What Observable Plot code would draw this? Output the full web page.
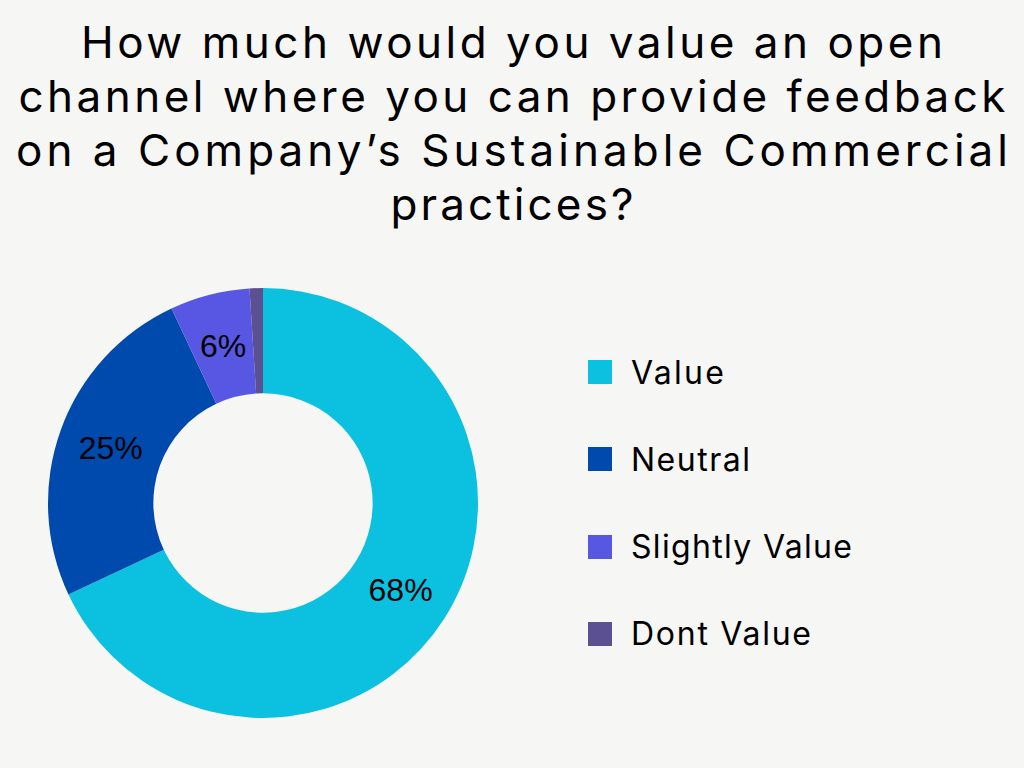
<!DOCTYPE html>
<html><head><meta charset="utf-8">
<script src="https://cdn.jsdelivr.net/npm/d3@7"></script>
<script src="https://cdn.jsdelivr.net/npm/@observablehq/plot@0.6"></script>
<style>
html,body{margin:0;padding:0;background:#F6F6F4;width:1024px;height:768px;overflow:hidden;}
#title{position:absolute;left:0;top:0;width:1024px;text-align:center;font-family:Inter,sans-serif;font-size:44px;line-height:54px;color:#000;padding-top:15px;}
#title div{white-space:nowrap;}
#chart{position:absolute;left:0;top:248px;}
#legend{position:absolute;left:588px;top:360px;font-family:Inter,sans-serif;font-size:32px;color:#000;}
.item{display:flex;align-items:center;height:24px;margin-bottom:63.3px;white-space:nowrap;}
.sw{width:24px;height:24px;margin-right:19px;flex:none;}
</style></head>
<body>
<div id="title"></div>
<div id="chart"></div>
<div id="legend"></div>
<script>
const titleLines = ["How much would you value an open", "channel where you can provide feedback", "on a Company\u2019s Sustainable Commercial", "practices?"];
const titleWidths = [862, 987, 992, 243];
const categories = ["Value", "Neutral", "Slightly Value", "Dont Value"];
const values = [68, 25, 6, 1];
const colors = ["#0CC0DF", "#004AAD", "#5757E3", "#5A5092"];
const legendWidths = [93, 119, 221, 180];

const ctx = document.createElement("canvas").getContext("2d");
function spacing(text, font, target) {
  ctx.font = font;
  const w = ctx.measureText(text).width;
  return (target - w) / Math.max(1, text.length - 1);
}

// Title
const titleEl = document.getElementById("title");
titleLines.forEach((t, i) => {
  const d = document.createElement("div");
  d.textContent = t;
  const ls = spacing(t, "44px Inter", titleWidths[i]);
  d.style.letterSpacing = ls + "px";
  d.style.marginRight = (-ls) + "px";
  titleEl.appendChild(d);
});

// Legend
const legendEl = document.getElementById("legend");
categories.forEach((c, i) => {
  const it = document.createElement("div");
  it.className = "item";
  const sw = document.createElement("div");
  sw.className = "sw";
  sw.style.background = colors[i];
  const tx = document.createElement("span");
  tx.textContent = c;
  tx.style.letterSpacing = spacing(c, "32px Inter", legendWidths[i]) + "px";
  it.appendChild(sw); it.appendChild(tx);
  legendEl.appendChild(it);
});

// Donut
const innerRatio = 0.51;
const data = categories.map((c, i) => ({category: c, value: values[i]}));
const arcs = d3.pie().sort(null).value(d => d.value)(data);
const labelR = (1 + innerRatio) / 2;
const labels = arcs.filter(a => a.data.value >= 3).map(a => {
  const m = (a.startAngle + a.endAngle) / 2;
  return {x: labelR * Math.sin(m), y: labelR * Math.cos(m), text: a.data.value + "%"};
});

const slices = (index, scales) => {
  const g = d3.create("svg:g");
  const cx = scales.x(0), cy = scales.y(0);
  const R = Math.abs(scales.x(1) - scales.x(0));
  const arc = d3.arc().innerRadius(R * innerRatio).outerRadius(R);
  g.attr("transform", `translate(${cx},${cy})`);
  g.selectAll("path").data(arcs).join("path")
    .attr("d", arc)
    .attr("fill", d => scales.color(d.data.category));
  return g.node();
};

const plot = Plot.plot({
  width: 1024,
  height: 520,
  margin: 0,
  style: {background: "transparent", overflow: "visible"},
  x: {domain: [-1, 1], range: [48, 478], axis: null},
  y: {domain: [-1, 1], range: [470, 40], axis: null},
  color: {domain: categories, range: colors},
  marks: [
    Plot.dot(data, {x: 0, y: 0, fill: "category", r: 0}),
    slices,
    Plot.text(labels, {x: "x", y: "y", text: "text", fill: "black", fontSize: 32, fontFamily: "Liberation Sans, Arial, sans-serif"})
  ]
});
document.getElementById("chart").appendChild(plot);
</script>
</body></html>
